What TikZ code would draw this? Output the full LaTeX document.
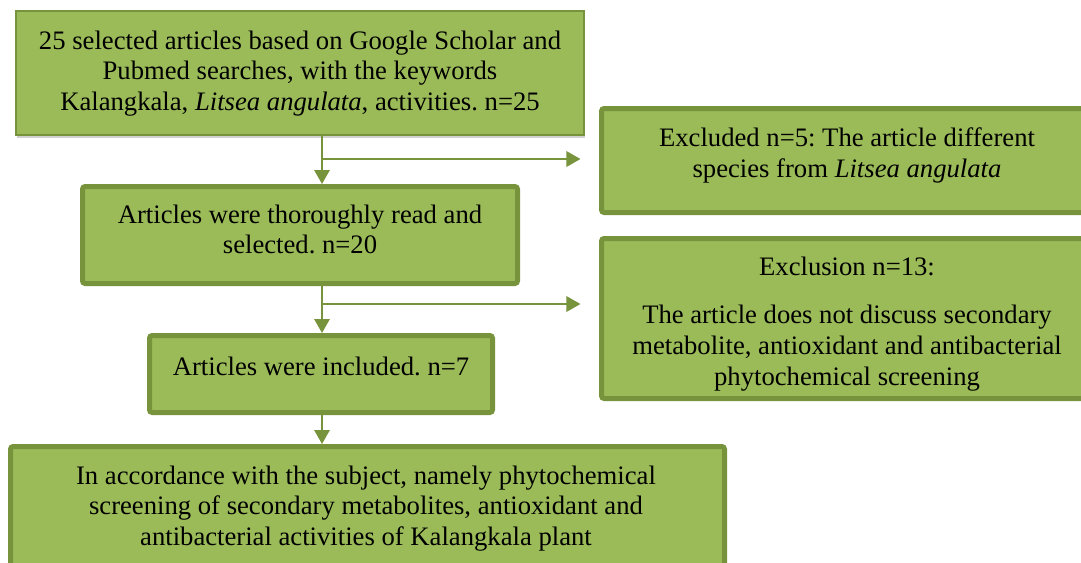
\documentclass[tikz,border=0pt]{standalone}
\usepackage{fontspec}
\setmainfont{Liberation Serif}
\frenchspacing
\usetikzlibrary{arrows.meta,shadows}
\definecolor{boxfill}{HTML}{9BBB59}
\definecolor{boxline}{HTML}{77933C}
\begin{document}
\begin{tikzpicture}[x=0.75pt,y=-0.75pt,
  thinbox/.style={draw=boxline,fill=boxfill,line width=0.8pt,inner sep=0pt,
    drop shadow={shadow xshift=0.6pt,shadow yshift=-2.5pt,opacity=0.3,fill=black!60}},
  thickbox/.style={draw=boxline,fill=boxfill,line width=3.75pt,rounded corners=2pt,inner sep=0pt},
  txt/.style={align=center,inner sep=0pt,font=\fontsize{20pt}{23pt}\selectfont},
  arr/.style={draw=boxline,line width=1.5pt,-{Triangle[length=10.5pt,width=11.5pt]}}]
\useasboundingbox (0,0) rectangle (1081,562);
\clip (0,0) rectangle (1081,562);
% boxes
\node[thinbox,minimum width=426pt,minimum height=93pt] (b1) at (300,73) {};
\node[thickbox,minimum width=368.25pt,minimum height=78pt] (ex1) at (847,160.5) {};
\node[thickbox,minimum width=326.25pt,minimum height=72.75pt] (b2) at (300,235) {};
\node[thickbox,minimum width=368.25pt,minimum height=120pt] (ex2) at (847,318.5) {};
\node[thickbox,minimum width=257.25pt,minimum height=57.75pt] (b3) at (321,374) {};
\node[thickbox,minimum width=535.5pt,minimum height=92.25pt] (b4) at (367.5,508) {};
% texts
\node[txt] (t1) at (300,73.5) {25 selected articles based on Google Scholar and\\ Pubmed searches, with the keywords\\ Kalangkala, \textit{Litsea angulata}, activities. n=25};
\node[txt] (te1) at (847,155.5) {Excluded n=5: The article different\\ species from \textit{Litsea angulata}};
\node[txt] (t2) at (300,229.5) {Articles were thoroughly read and\\ selected. n=20};
\node[txt] (te2) at (847,324) {Exclusion n=13:\\[13pt] The article does not discuss secondary\\ metabolite, antioxidant and antibacterial\\ phytochemical screening};
\node[txt] (t3) at (321,366.5) {Articles were included. n=7};
\node[txt] (t4) at (366,508.5) {In accordance with the subject, namely phytochemical\\ screening of secondary metabolites, antioxidant and\\ antibacterial activities of Kalangkala plant};
% connectors
\coordinate (j1) at (322,159);
\coordinate (j2) at (322,304);
\draw[arr] (j1 |- b1.south) -- (j1 |- b2.north);
\draw[arr] (j1) -- ([xshift=-13.9pt]j1 -| ex1.west);
\draw[arr] (j2 |- b2.south) -- (j2 |- b3.north);
\draw[arr] (j2) -- ([xshift=-13.9pt]j2 -| ex2.west);
\draw[arr] (j2 |- b3.south) -- (j2 |- b4.north);
\end{tikzpicture}
\end{document}
